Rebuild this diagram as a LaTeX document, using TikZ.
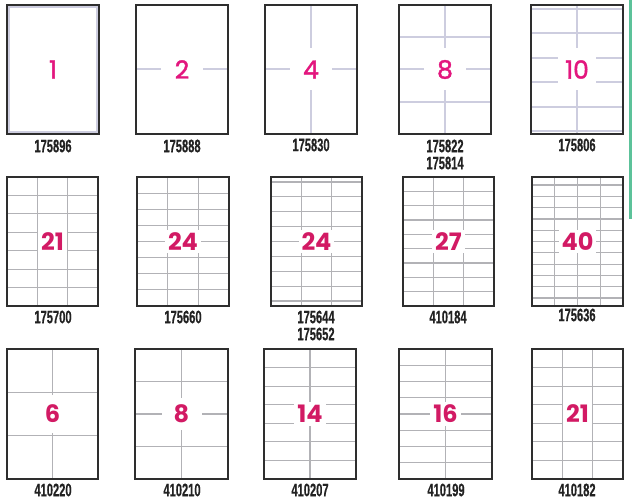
\documentclass[tikz,border=0pt]{standalone}
\usepackage{fontspec}
\usepackage{graphicx}
\newfontfamily\numfont{Poppins}
\newfontfamily\numfontA[FakeBold=1.6]{Poppins}
\newfontfamily\labfontbase[FakeBold=0.6]{Liberation Sans Bold}
\definecolor{magA}{HTML}{E3167E}
\definecolor{magB}{HTML}{D21A64}
\definecolor{lav}{HTML}{CDCDDF}
\definecolor{gridg}{HTML}{B2B2B6}
\definecolor{framec}{HTML}{2E2E2E}
\definecolor{labk}{HTML}{222222}
\definecolor{tabgreen}{HTML}{5CC29A}
\newcommand\labtext[1]{\scalebox{0.62}[1]{\labfontbase #1}}
\tikzset{
 sheetborder/.style={draw=framec, line width=1.1pt},
 lavline/.style={draw=lav, line width=2pt},
 gridline/.style={draw=gridg, line width=1.2pt},
 numA/.style={font=\numfontA\fontsize{25}{25}\selectfont, text=magA, fill=white, inner sep=0pt, minimum width=42pt, minimum height=42pt},
 numB/.style={font=\numfont\bfseries\fontsize{24}{24}\selectfont, text=magB, fill=white, inner sep=3pt},
 lab/.style={font=\fontsize{18}{18}\selectfont, text=labk, inner sep=0pt}
}
% #1 name, #2 x1, #3 x2, #4 cols, #5 rows, #6 margin, #7 number, #8 number options
\newcommand\gridsheet[8]{%
 \pgfmathsetmacro\ga{\ytop+#6}%
 \pgfmathsetmacro\gb{\ybot-#6}%
 \pgfmathtruncatemacro\gc{#4-1}%
 \pgfmathtruncatemacro\gr{#5-1}%
 \foreach \i in {1,...,\gc}{\draw[gridline] ({#2+(#3-#2)*\i/#4},\ytop) -- ({#2+(#3-#2)*\i/#4},\ybot);}
 \foreach \j in {1,...,\gr}{\draw[gridline] (#2,{\ga+(\gb-\ga)*\j/#5}) -- (#3,{\ga+(\gb-\ga)*\j/#5});}
 \ifdim #6pt>0pt
  \draw[gridline] (#2,\ga) -- (#3,\ga);
  \draw[gridline] (#2,\gb) -- (#3,\gb);
 \fi
 \node[numB,#8] (#1) at ({(#2+#3)/2},{(\ytop+\ybot)/2}) {#7};
 \draw[sheetborder] (#2,\ytop) rectangle (#3,\ybot);
}
\begin{document}
\begin{tikzpicture}[x=1pt,y=-1pt]
\useasboundingbox (0,0) rectangle (632,500);
\fill[white] (0,0) rectangle (632,500);

% green tab
\draw[tabgreen, line width=3pt] (630.5,0) -- (630.5,219);

% ---------- Row 1 ----------
% sheet 1
\draw[lavline] (9,7) rectangle (97,132);
\node[numA] (n1) at (53,69.5) {1};
\draw[sheetborder] (7,5) rectangle (99,134);
% sheet 2
\draw[lavline] (136,69.5) -- (228,69.5);
\node[numA] (n2) at (182,69.5) {2};
\draw[sheetborder] (136,5) rectangle (228,134);
% sheet 4
\draw[lavline] (265,69.5) -- (357,69.5);
\draw[lavline] (311,5) -- (311,134);
\node[numA] (n4) at (311,69.5) {4};
\draw[sheetborder] (265,5) rectangle (357,134);
% sheet 8
\draw[lavline] (445,5) -- (445,134);
\foreach \yy in {37.25,69.5,101.75}{\draw[lavline] (399,\yy) -- (491,\yy);}
\node[numA] (n8) at (445,69.5) {8};
\draw[sheetborder] (399,5) rectangle (491,134);
% sheet 10
\draw[lavline] (577,5) -- (577,134);
\foreach \yy in {9,33.4,57.8,82.2,106.6,131}{\draw[lavline] (531,\yy) -- (623,\yy);}
\node[numA, minimum width=38pt] (n10) at (577,69.5) {10};
\draw[sheetborder] (531,5) rectangle (623,134);

\node[lab] (l175896) at (53,146) {\labtext{175896}};
\node[lab] (l175888) at (182,146) {\labtext{175888}};
\node[lab] (l175830) at (311,145) {\labtext{175830}};
\node[lab] (l175822) at (445,146) {\labtext{175822}};
\node[lab] (l175814) at (445,163) {\labtext{175814}};
\node[lab] (l175806) at (577,145) {\labtext{175806}};

% ---------- Row 2 ----------
\def\ytop{177}\def\ybot{306}
\gridsheet{n21a}{7}{98}{3}{7}{0}{21}{}
\gridsheet{n24a}{137}{229}{3}{8}{0}{24}{}
\gridsheet{n24b}{271}{362}{3}{8}{5}{24}{}
\gridsheet{n27}{403}{494}{3}{9}{0}{27}{}
\gridsheet{n40}{532}{623}{4}{10}{8}{40}{}

\node[lab] (l175700) at (53,317) {\labtext{175700}};
\node[lab] (l175660) at (183,317) {\labtext{175660}};
\node[lab] (l175644) at (316,317) {\labtext{175644}};
\node[lab] (l175652) at (316,334) {\labtext{175652}};
\node[lab] (l410184) at (448,317) {\labtext{410184}};
\node[lab] (l175636) at (577,315) {\labtext{175636}};

% ---------- Row 3 ----------
\def\ytop{349}\def\ybot{479}
\gridsheet{n6}{7}{98}{2}{3}{0}{6}{minimum height=38pt, minimum width=28pt}
\gridsheet{n8b}{135}{228}{2}{4}{0}{8}{minimum height=32pt, minimum width=40pt}
\gridsheet{n14}{264}{356}{2}{7}{0}{14}{}
\gridsheet{n16}{399}{492}{2}{8}{0}{16}{}
\gridsheet{n21b}{532}{623}{3}{7}{0}{21}{}

\node[lab] (l410220) at (53,490) {\labtext{410220}};
\node[lab] (l410210) at (182,490) {\labtext{410210}};
\node[lab] (l410207) at (310,490) {\labtext{410207}};
\node[lab] (l410199) at (446,490) {\labtext{410199}};
\node[lab] (l410182) at (577,490) {\labtext{410182}};
\end{tikzpicture}
\end{document}
